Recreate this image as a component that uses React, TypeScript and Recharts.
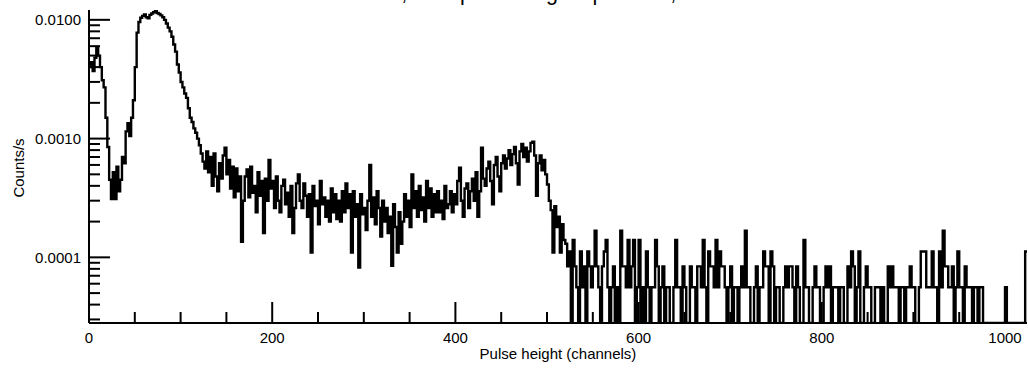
import React from 'react';
import { LineChart, Line, XAxis, YAxis } from 'recharts';

// Pulse height spectrum, 2-channel bins (bin start channel = index * BIN_WIDTH)
const BIN_WIDTH = 2;

// channels 0 - 127
const peakRegion: number[] = [
  0.0040, 0.0044, 0.0037, 0.0048, 0.0059, 0.0050, 0.0040, 0.0031, 0.0027, 0.0015,
  0.00085, 0.00045, 0.00031, 0.00052, 0.00031, 0.00058, 0.00036, 0.00045, 0.00070, 0.00062,
  0.00115, 0.00135, 0.00105, 0.00150, 0.0021, 0.0040, 0.0078, 0.0096, 0.0104, 0.0108,
  0.0111, 0.0105, 0.0103, 0.0110, 0.0113, 0.0116, 0.0118, 0.0114, 0.0112, 0.0109,
  0.0105, 0.0100, 0.0093, 0.0086, 0.0080, 0.0072, 0.0062, 0.0054, 0.0042, 0.0036,
  0.0030, 0.0027, 0.0024, 0.0022, 0.0018, 0.0015, 0.00138, 0.00122, 0.00112, 0.00100,
  0.00088, 0.00075, 0.00064, 0.00056,
];

// channels 128 - 575
const continuumRegion: number[] = [
  // 128 - 199
  0.00078, 0.00052, 0.00070, 0.00040, 0.00075, 0.00048, 0.00036, 0.00062, 0.00046, 0.00072,
  0.00084, 0.00050, 0.00066, 0.00038, 0.00058, 0.00032, 0.00056, 0.00036, 0.00048, 0.000135,
  0.00030, 0.00048, 0.00055, 0.00032, 0.00058, 0.00035, 0.00040, 0.00024, 0.00052, 0.00033,
  0.00044, 0.00016, 0.00046, 0.00030, 0.00066, 0.00038,
  // 200 - 259
  0.00044, 0.00026, 0.00048, 0.00030, 0.00024, 0.00040, 0.00045, 0.00028, 0.00035, 0.00022,
  0.00040, 0.00016, 0.00026, 0.00042, 0.00050, 0.00030, 0.00026, 0.00042, 0.00033, 0.00022,
  0.00034, 0.00011, 0.00040, 0.00027, 0.00030, 0.00019, 0.00044, 0.00028, 0.00032, 0.00022,
  // 260 - 329
  0.00030, 0.00020, 0.00038, 0.00024, 0.00034, 0.00021, 0.00030, 0.00020, 0.00036, 0.00024,
  0.00042, 0.00026, 0.00034, 0.00011, 0.00036, 0.00022, 0.00028, 0.000082, 0.00034, 0.00023,
  0.00026, 0.00017, 0.00030, 0.00060, 0.00022, 0.00032, 0.00019, 0.00036, 0.00026, 0.00015,
  0.00030, 0.00020, 0.00026, 0.00016, 0.00022,
  // 330 - 379
  0.000085, 0.00028, 0.00018, 0.00011, 0.00024, 0.00013, 0.00020, 0.00034, 0.00022, 0.00030,
  0.00018, 0.00050, 0.00026, 0.00036, 0.00022, 0.00040, 0.00025, 0.00032, 0.00020, 0.00044,
  0.00026, 0.00038, 0.00022, 0.00034, 0.00024,
  // 380 - 439
  0.00036, 0.00024, 0.00030, 0.00021, 0.00040, 0.00026, 0.00028, 0.00036, 0.00024, 0.00034,
  0.00028, 0.00044, 0.00057, 0.00030, 0.00022, 0.00038, 0.00042, 0.00026, 0.00036, 0.00046,
  0.00030, 0.00052, 0.00022, 0.00036, 0.00084, 0.00046, 0.00040, 0.00056, 0.00064, 0.00044,
  // 440 - 499
  0.00028, 0.00060, 0.00070, 0.00048, 0.00036, 0.00062, 0.00072, 0.00056, 0.00068, 0.00080,
  0.00060, 0.00074, 0.00085, 0.00062, 0.00041, 0.00078, 0.00090, 0.00070, 0.00084, 0.00064,
  0.00078, 0.00092, 0.00094, 0.00072, 0.00033, 0.00062, 0.00072, 0.00054, 0.00066, 0.00050,
  // 500 - 575
  0.00041, 0.00030, 0.00025, 0.00011, 0.00027, 0.00018, 0.00022, 0.00011, 0.00019, 0.00014,
  0.00013, 0.000084, 0.000112, 0.000028, 0.00014, 0.000084, 0.000056, 0.000028, 0.000112, 0.000056,
  0.000084, 0.000028, 0.000112, 0.000084, 0.000056, 0.000084, 0.000168, 0.000084, 0.000056, 0.000028,
  0.000084, 0.000112, 0.00014, 0.000056, 0.000028, 0.000056, 0.000084, 0.000028,
];

// channels 576 - 1023
const tailRegion: number[] = [
  0.000056, 0.000028, 0.000168, 0.000084, 0.000084, 0.000056, 0.00014, 0.000056, 0.000084, 0.00014,
  0.000028, 0.000056, 0.00014, 0.000028, 0.000056, 0.000028, 0.000112, 0.000056, 0.000028, 0.000056,
  0.000056, 0.00014, 0.000084, 0.000028, 0.000056, 0.000084, 0.000028, 0.000056, 0.000056, 0.000028,
  0.000028, 0.000056, 0.00014, 0.000056, 0.000056, 0.000028, 0.000084, 0.000056, 0.000028, 0.000028,
  0.000084, 0.000056, 0.000056, 0.000028, 0.000084, 0.000084, 0.000056, 0.00014, 0.000056, 0.000028,
  0.000112, 0.000084, 0.000084, 0.000056, 0.00014, 0.000056, 0.000112, 0.000084, 0.000084, 0.000056,
  0.000028, 0.000056, 0.000084, 0.000028, 0.000056, 0.000056, 0.000028, 0.000056, 0.000084, 0.000056,
  0.000168, 0.000056, 0.000056, 0.000028, 0.000028, 0.000056, 0.000084, 0.000028, 0.000056, 0.000056,
  0.000112, 0.000084, 0.000084, 0.000028, 0.000112, 0.000084, 0.000028, 0.000056, 0.000056, 0.000028,
  0.000028, 0.000056, 0.000084, 0.000056, 0.000084, 0.000084, 0.000056, 0.000028, 0.000084, 0.000056,
  0.000028, 0.000028, 0.00014, 0.000056, 0.000056, 0.000028, 0.000028, 0.000056, 0.000084, 0.000056,
  0.000056, 0.000028, 0.000028, 0.000056, 0.000084, 0.000056, 0.000084, 0.000028, 0.000056, 0.000056,
  0.000056, 0.000028, 0.000056, 0.000056, 0.000028, 0.000028, 0.000084, 0.000056, 0.000112, 0.000084,
  0.000028, 0.000056, 0.000112, 0.000028, 0.000028, 0.000056, 0.000084, 0.000056, 0.000056, 0.000028,
  0.000028, 0.000056, 0.000056, 0.000056, 0.000028, 0.000056, 0.000028, 0.000028, 0.000084, 0.000056,
  0.000084, 0.000056, 0.000056, 0.000056, 0.000028, 0.000056, 0.000056, 0.000028, 0.000056, 0.000056,
  0.000084, 0.000056, 0.000056, 0.000028, 0.000028, 0.000056, 0.000112, 0.000112, 0.000112, 0.000056,
  0.000056, 0.000056, 0.000112, 0.000056, 0.000056, 0.000028, 0.000112, 0.000056, 0.000168, 0.000084,
  0.000084, 0.000056, 0.000056, 0.000084, 0.000028, 0.000056, 0.000112, 0.000056, 0.000056, 0.000028,
  0.000084, 0.000056, 0.000056, 0.000056, 0.000028, 0.000056, 0.000056, 0.000028, 0.000056, 0.000056,
  0.000028, 0.000028, 0.000028, 0.000028, 0.000028, 0.000028, 0.000028, 0.000028, 0.000028, 0.000028,
  0.000028, 0.000028, 0.000056, 0.000028, 0.000028, 0.000028, 0.000028, 0.000028, 0.000028, 0.000028,
  0.000028, 0.000028, 0.000028, 0.000112,
];

const X_DOMAIN = [0, 1024];
const X_TICKS = [0, 50, 100, 150, 200, 250, 300, 350, 400, 450, 500, 550, 600, 650, 700, 750, 800, 850, 900, 950, 1000];
const X_LABELED = [0, 200, 400, 600, 800, 1000];
const Y_DOMAIN = [0.000028, 0.0121];
const Y_MAJOR = [0.0001, 0.001, 0.01];
const Y_TICKS = [
  0.00003, 0.00004, 0.00005, 0.00006, 0.00007, 0.00008, 0.00009, 0.0001,
  0.0002, 0.0003, 0.0004, 0.0005, 0.0006, 0.0007, 0.0008, 0.0009, 0.001,
  0.002, 0.003, 0.004, 0.005, 0.006, 0.007, 0.008, 0.009, 0.01,
];
const TITLE = 'Run 1, total pulse height spectrum, 24 h';
const X_TITLE = 'Pulse height (channels)';
const Y_TITLE = 'Counts/s';

const countsPerSec = [...peakRegion, ...continuumRegion, ...tailRegion];
const data = countsPerSec
  .map((v, i) => ({ ch: i * BIN_WIDTH, v }))
  .concat([{ ch: countsPerSec.length * BIN_WIDTH, v: countsPerSec[countsPerSec.length - 1] }]);

const FONT = '"Liberation Sans", Arial, Helvetica, sans-serif';
const Y_TICK_MARGIN = 8;

const isMajorY = (v: number) => Y_MAJOR.some((m) => Math.abs(m - v) / m < 1e-6);

const YTick = (props: any) => {
  const { x, y, payload } = props;
  const v = payload.value as number;
  const major = isMajorY(v);
  const ax = x + Y_TICK_MARGIN;
  return (
    <g>
      <line x1={ax} x2={ax + (major ? 21 : 11)} y1={y} y2={y} stroke="#000" strokeWidth={2} />
      {major && (
        <text x={x} y={y} dy="0.36em" textAnchor="end" fontFamily={FONT} fontSize={15} fill="#000">
          {v.toFixed(4)}
        </text>
      )}
    </g>
  );
};

const XTick = (props: any) => {
  const { x, y, payload } = props;
  const v = payload.value as number;
  const major = X_LABELED.includes(v);
  return (
    <g>
      <line x1={x} x2={x} y1={y} y2={y - (major ? 21 : 11)} stroke="#000" strokeWidth={2} />
      {major && (
        <text x={x} y={y + 20} textAnchor="middle" fontFamily={FONT} fontSize={15} fill="#000">
          {v}
        </text>
      )}
    </g>
  );
};

export default function App() {
  return (
    <div style={{ position: 'absolute', left: 0, top: 0, width: 1029, height: 370, background: '#fff' }}>
      <LineChart width={1029} height={370} data={data} margin={{ top: 10, right: 2, bottom: 0, left: 0 }}>
        <XAxis
          dataKey="ch"
          type="number"
          domain={X_DOMAIN}
          allowDataOverflow
          ticks={X_TICKS}
          interval={0}
          tickLine={false}
          tickSize={0}
          tickMargin={0}
          height={47}
          axisLine={{ stroke: '#000', strokeWidth: 2 }}
          tick={<XTick />}
        />
        <YAxis
          type="number"
          scale="log"
          domain={Y_DOMAIN}
          allowDataOverflow
          ticks={Y_TICKS}
          interval={0}
          tickLine={false}
          tickSize={0}
          tickMargin={Y_TICK_MARGIN}
          width={89}
          axisLine={{ stroke: '#000', strokeWidth: 2 }}
          tick={<YTick />}
        />
        <Line
          type="stepAfter"
          dataKey="v"
          stroke="#000"
          strokeWidth={2.4}
          dot={false}
          isAnimationActive={false}
        />
        <text x={344} y={0} fontFamily={FONT} fontSize={21.5} fill="#000">
          {TITLE}
        </text>
        <text x={558} y={359} textAnchor="middle" fontFamily={FONT} fontSize={15} fill="#000">
          {X_TITLE}
        </text>
        <text
          x={24}
          y={168}
          transform="rotate(-90, 24, 168)"
          textAnchor="middle"
          fontFamily={FONT}
          fontSize={15}
          fill="#000"
        >
          {Y_TITLE}
        </text>
      </LineChart>
    </div>
  );
}
